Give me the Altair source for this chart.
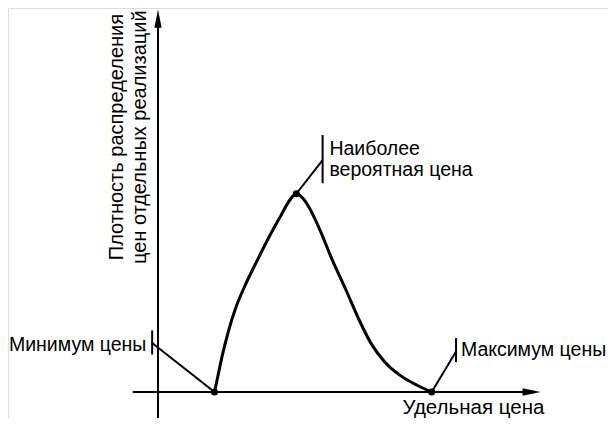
import altair as alt
import pandas as pd

# Schematic distribution curve (arbitrary units: x = unit price, y = density)
curve_x = [58, 62, 66, 72, 80, 90, 102, 114, 126, 135, 142,
           149, 155, 166, 179, 193, 206, 219, 233, 249, 266, 281]
curve_y = [0, 19, 38, 62, 88, 112, 137, 161, 183, 199, 206,
           201, 192, 169, 137, 106, 76, 50, 31, 17, 7, 0]

# Key points: minimum, most probable, maximum price
key_names = ["min", "mode", "max"]
key_x = [58, 142, 281]
key_y = [0, 206, 0]

# Annotation leader ends and label ticks
leader_x2 = [-6, 169, 306]
leader_y2 = [51, 241, 42]
tick_y_lo = [39, 217, 31]
tick_y_hi = [64, 267, 56]

left_text = ["Наиболее", "вероятная цена", "Максимум цены"]
left_x = [176, 176, 311]
left_y = [246, 224, 37]
right_text = ["Минимум цены"]
right_x = [-12]
right_y = [43]
xlabel_text = ["Удельная цена"]
xlabel_x = [251]
xlabel_y = [-23]

ylabel_lines = ["Плотность распределения", "цен отдельных реализаций"]
ylabel_x = [-36, -12]
ylabel_y = [137, 133]

XS = alt.Scale(domain=[-154, 462])
YS = alt.Scale(domain=[-27, 399])
FONT = "Liberation Sans"
FS = 19.5


def X(f="x"):
    return alt.X(f"{f}:Q", scale=XS, axis=None)


def Y(f="y"):
    return alt.Y(f"{f}:Q", scale=YS, axis=None)


curve_df = pd.DataFrame({"x": curve_x, "y": curve_y})
key_df = pd.DataFrame({"name": key_names, "x": key_x, "y": key_y})
lead_df = pd.DataFrame({"x": key_x, "y": key_y, "x2": leader_x2, "y2": leader_y2,
                        "ylo": tick_y_lo, "yhi": tick_y_hi})
left_df = pd.DataFrame({"t": left_text, "x": left_x, "y": left_y})
right_df = pd.DataFrame({"t": right_text, "x": right_x, "y": right_y})
xlab_df = pd.DataFrame({"t": xlabel_text, "x": xlabel_x, "y": xlabel_y})
ylab_df = pd.DataFrame({"t": ylabel_lines, "x": ylabel_x, "y": ylabel_y})

axes_df = pd.DataFrame({"x": [-26, 0], "y": [0, -27], "x2": [383, 0], "y2": [0, 388]})
arrow_df = pd.DataFrame({"x": [383.5, 0], "y": [0, 388],
                         "shape": ["M1,0 L-1,-0.42 L-1,0.42 Z", "M0,-1 L0.4,1 L-0.4,1 Z"]})

axes = alt.Chart(axes_df).mark_rule(color="black", strokeWidth=2).encode(
    x=X(), y=Y(), x2="x2:Q", y2="y2:Q")

arrows = alt.Chart(arrow_df).mark_point(filled=True, color="black", opacity=1, size=330).encode(
    x=X(), y=Y(), shape=alt.Shape("shape:N", scale=None))

curve = alt.Chart(curve_df).mark_line(color="black", strokeWidth=3, interpolate="monotone").encode(
    x=X(), y=Y())

leaders = alt.Chart(lead_df).mark_rule(color="black", strokeWidth=2).encode(
    x=X(), y=Y(), x2="x2:Q", y2="y2:Q")

ticks = alt.Chart(lead_df).mark_rule(color="black", strokeWidth=2).encode(
    x=X("x2"), y=Y("ylo"), y2="yhi:Q")

points = alt.Chart(key_df).mark_circle(color="black", opacity=1, size=50).encode(
    x=X(), y=Y())

left_labels = alt.Chart(left_df).mark_text(
    font=FONT, fontSize=FS, color="black", align="left", baseline="alphabetic").encode(
    x=X(), y=Y(), text="t:N")

right_labels = alt.Chart(right_df).mark_text(
    font=FONT, fontSize=FS, color="black", align="right", baseline="alphabetic").encode(
    x=X(), y=Y(), text="t:N")

xlabel = alt.Chart(xlab_df).mark_text(
    font=FONT, fontSize=20.5, color="black", align="left", baseline="alphabetic").encode(
    x=X(), y=Y(), text="t:N")

ylabels = alt.Chart(ylab_df).mark_text(
    font=FONT, fontSize=20, color="black", align="left", baseline="alphabetic", angle=270).encode(
    x=X(), y=Y(), text="t:N")

chart = alt.layer(
    axes, arrows, leaders, ticks, curve, points, left_labels, right_labels, xlabel, ylabels
).properties(
    width=600, height=410, padding=0, autosize="none"
).configure_view(stroke=None).configure(background="white")

chart.save("out.html", embed_options={"renderer": "svg", "actions": False})
